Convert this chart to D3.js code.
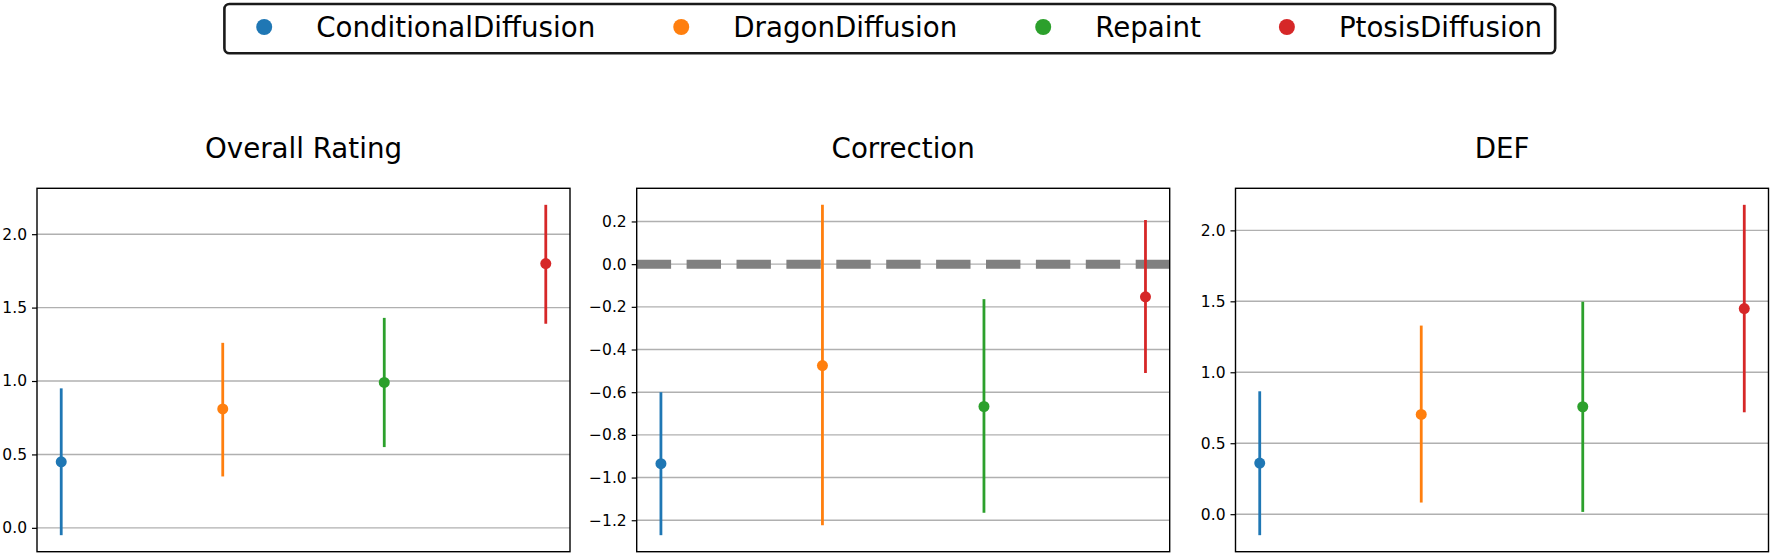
<!DOCTYPE html>
<html>
<head>
<meta charset="utf-8">
<script src="https://cdn.jsdelivr.net/npm/d3@7"></script>
<style>
  html, body { margin: 0; padding: 0; background: #fff; }
  svg { display: block; font-family: "DejaVu Sans", sans-serif; }
</style>
</head>
<body>
<svg id="chart" width="1772" height="556"></svg>
<script>
// ---------------- data ----------------
const methods = ["ConditionalDiffusion", "DragonDiffusion", "Repaint", "PtosisDiffusion"];
const colors = ["#1f77b4", "#ff7f0e", "#2ca02c", "#d62728"];
const panelTitles = ["Overall Rating", "Correction", "DEF"];

const overallMean = [0.45, 0.81, 0.99, 1.80];
const overallLow  = [-0.05, 0.35, 0.55, 1.39];
const overallHigh = [0.95, 1.26, 1.43, 2.20];

const correctionMean = [-0.935, -0.475, -0.667, -0.153];
const correctionLow  = [-1.27, -1.223, -1.165, -0.51];
const correctionHigh = [-0.60, 0.278, -0.164, 0.207];

const defMean = [0.36, 0.703, 0.757, 1.449];
const defLow  = [-0.148, 0.082, 0.016, 0.718];
const defHigh = [0.866, 1.329, 1.497, 2.18];

const overallTicks = [0.0, 0.5, 1.0, 1.5, 2.0];
const correctionTicks = [-1.2, -1.0, -0.8, -0.6, -0.4, -0.2, 0.0, 0.2];
const defTicks = [0.0, 0.5, 1.0, 1.5, 2.0];

const panels = [
  {title: panelTitles[0], mean: overallMean, low: overallLow, high: overallHigh, ticks: overallTicks, refLine: false},
  {title: panelTitles[1], mean: correctionMean, low: correctionLow, high: correctionHigh, ticks: correctionTicks, refLine: true},
  {title: panelTitles[2], mean: defMean, low: defLow, high: defHigh, ticks: defTicks, refLine: false}
];

// ---------------- layout ----------------
const svg = d3.select("#chart");
const panelLefts = [37, 636.7, 1235.5];
const panelW = 533;
const panelTop = 188.3, panelBottom = 551.7;
const fmt = d3.format(".1f");

panels.forEach((p, pi) => {
  const x0 = panelLefts[pi];
  const g = svg.append("g").attr("transform", `translate(${x0},0)`);

  const x = d3.scaleLinear().domain([-0.15, 3.15]).range([0, panelW]);
  const dmin = d3.min(p.low), dmax = d3.max(p.high);
  const m = (dmax - dmin) * 0.05;
  const y = d3.scaleLinear().domain([dmin - m, dmax + m]).range([panelBottom, panelTop]);

  // grid
  g.append("g").selectAll("line").data(p.ticks).join("line")
    .attr("x1", 0).attr("x2", panelW)
    .attr("y1", d => y(d)).attr("y2", d => y(d))
    .attr("stroke", "#b0b0b0").attr("stroke-width", 1.4);

  // reference dashed line
  if (p.refLine) {
    g.append("line")
      .attr("x1", 0).attr("x2", panelW)
      .attr("y1", y(0)).attr("y2", y(0))
      .attr("stroke", "#808080").attr("stroke-width", 9)
      .attr("stroke-dasharray", "34.4 15.5");
  }

  // error bars
  g.append("g").selectAll("line").data(methods).join("line")
    .attr("x1", (d, i) => x(i)).attr("x2", (d, i) => x(i))
    .attr("y1", (d, i) => y(p.low[i])).attr("y2", (d, i) => y(p.high[i]))
    .attr("stroke", (d, i) => colors[i]).attr("stroke-width", 2.8);

  // markers
  g.append("g").selectAll("circle").data(methods).join("circle")
    .attr("cx", (d, i) => x(i)).attr("cy", (d, i) => y(p.mean[i]))
    .attr("r", 5.5).attr("fill", (d, i) => colors[i]);

  // y axis
  const axis = d3.axisLeft(y).tickValues(p.ticks).tickFormat(fmt).tickSize(5).tickPadding(5);
  const ag = g.append("g").call(axis);
  ag.select(".domain").remove();
  ag.selectAll(".tick line").attr("stroke", "#000").attr("stroke-width", 1.2);
  ag.selectAll(".tick text").attr("font-size", 15.5).attr("fill", "#000")
    .attr("font-family", "DejaVu Sans, sans-serif");

  // frame
  g.append("rect")
    .attr("x", 0).attr("y", panelTop)
    .attr("width", panelW).attr("height", panelBottom - panelTop)
    .attr("fill", "none").attr("stroke", "#000").attr("stroke-width", 1.4);

  // title
  g.append("text")
    .attr("x", panelW / 2).attr("y", 158)
    .attr("text-anchor", "middle")
    .attr("font-size", 27.7).attr("fill", "#000")
    .text(p.title);
});

// ---------------- legend ----------------
const legend = svg.append("g");
const legendFont = 27.7;
const legendBox = legend.append("rect");
let cx = 264.2;
const dotToText = 52, textToDot = 86;
const entries = [];
methods.forEach((name, i) => {
  legend.append("circle").attr("cx", cx).attr("cy", 27).attr("r", 8).attr("fill", colors[i]);
  const t = legend.append("text")
    .attr("x", cx + dotToText).attr("y", 37.3)
    .attr("font-size", legendFont).attr("fill", "#000")
    .text(name);
  const w = t.node().getComputedTextLength();
  entries.push(cx + dotToText + w);
  cx = cx + dotToText + w + textToDot;
});
const boxLeft = 224.4;
const boxRight = entries[entries.length - 1] + 13;
legendBox
  .attr("x", boxLeft).attr("y", 4)
  .attr("width", boxRight - boxLeft).attr("height", 49.3)
  .attr("rx", 5).attr("ry", 5)
  .attr("fill", "#fff").attr("stroke", "#1a1a1a").attr("stroke-width", 2.6);
</script>
</body>
</html>
